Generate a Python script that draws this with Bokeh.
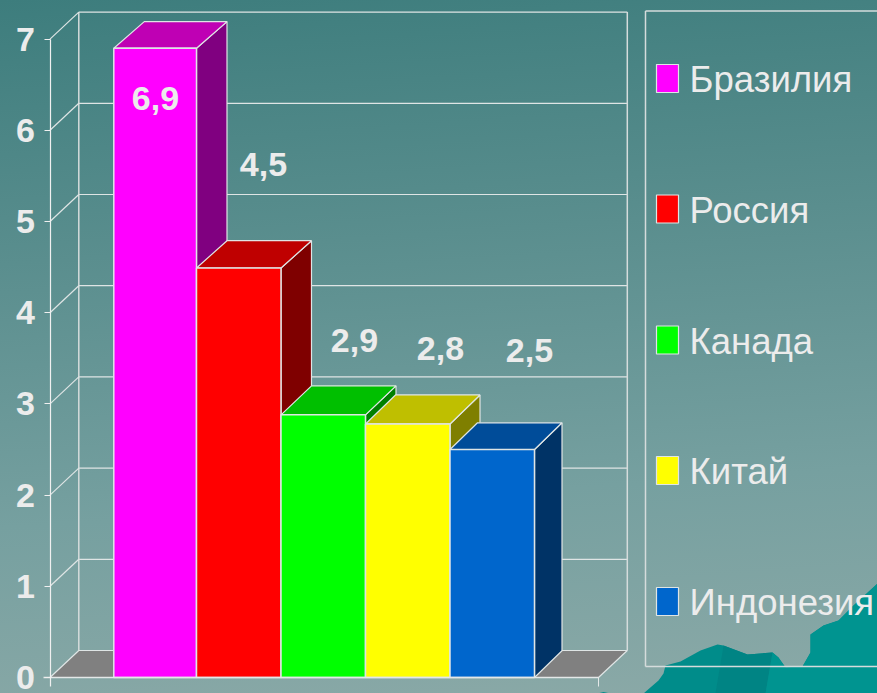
from bokeh.plotting import figure
from bokeh.embed import file_html
from bokeh.resources import INLINE
from bokeh.core.properties import value
from bokeh.models import FixedTicker, Range1d

categories = ["Бразилия", "Россия", "Канада", "Китай", "Индонезия"]
values = [6.9, 4.49, 2.88, 2.78, 2.5]
value_labels = ["6,9", "4,5", "2,9", "2,8", "2,5"]
y_ticks = [0, 1, 2, 3, 4, 5, 6, 7]
front_colors = ["#ff00ff", "#ff0000", "#00ff00", "#ffff00", "#0066cc"]
top_colors = ["#bf00b4", "#bf0000", "#00bf00", "#bfbf00", "#004c99"]
side_colors = ["#800080", "#7f0000", "#007f00", "#7f7f00", "#003366"]

# Layout (pixels of the 877x693 page)
W, H = 877, 693
Y0, PX_UNIT = 677.0, 91.2
X0, PX_BAR = 111.5, 84.5
def fx(px): return (px - X0) / PX_BAR
def fy(py): return (Y0 - py) / PX_UNIT
bar_dx = [30.5 / PX_BAR, 30.5 / PX_BAR, 30.5 / PX_BAR, 30 / PX_BAR, 27.5 / PX_BAR]
bar_dy = [26.6 / PX_UNIT, 27.3 / PX_UNIT, 29 / PX_UNIT, 29 / PX_UNIT, 26.7 / PX_UNIT]
DX, DY = 28.8 / PX_BAR, 27.0 / PX_UNIT
AX_L, AX_R = fx(49.5), fx(598)
LINE = "#dfe5e5"
EM = 34  # font size of value and tick labels
BASE_SHIFT = 0.35  # the page draws alphabetic text this many em lower

p = figure(width=W, height=H, output_backend="svg", toolbar_location=None,
           x_range=Range1d(fx(0), fx(W)), y_range=Range1d(fy(H), fy(0)),
           min_border=0, outline_line_color=None)
p.styles = {"position": "fixed", "left": "0", "top": "0",
            "background": "linear-gradient(176deg, #3d7d7d 0%, #5a8e8e 35%, #76a0a0 70%, #8ba9a7 100%)"}
p.background_fill_alpha = 0
p.border_fill_alpha = 0
p.grid.visible = False

# Decorative teal ridge of the slide background
ridge_x = [643, 658, 663, 665, 680, 700, 717, 723, 747, 772, 778, 785, 802, 810, 810, 823, 838, 853, 877, 877]
ridge_y = [693, 680, 673, 665, 661, 650, 644, 645, 654, 652, 657, 667, 666, 652, 634, 625, 620, 605, 583, 693]
p.patch([fx(a) for a in ridge_x], [fy(b) for b in ridge_y], fill_color="#008c8a", line_color=None)
p.patch([fx(a) for a in [723, 747, 772, 765, 715]], [fy(b) for b in [645, 654, 652, 693, 693]],
        fill_color="#008484", line_color=None)
p.patch([fx(a) for a in [772, 778, 785, 802, 810, 810, 823, 838, 853, 877, 877, 765]],
        [fy(b) for b in [652, 657, 667, 666, 652, 634, 625, 620, 605, 583, 693, 693]],
        fill_color="#009490", line_color=None)
p.patch([fx(a) for a in [597, 603, 610]], [fy(b) for b in [693, 691.5, 693]], fill_color="#008c8a", line_color=None)

# Back wall
back_l, back_r = AX_L + DX, AX_R + DX
p.segment(x0=[back_l] * 7, y0=[t + DY for t in y_ticks[1:]], x1=[back_r] * 7, y1=[t + DY for t in y_ticks[1:]],
          line_color=LINE, line_width=1.2)
p.segment(x0=[back_l, back_r], y0=[DY, DY], x1=[back_l, back_r], y1=[7 + DY, 7 + DY],
          line_color="#d5dcdc", line_width=1.5)
p.segment(x0=[AX_L] * 7, y0=y_ticks[1:], x1=[back_l] * 7, y1=[t + DY for t in y_ticks[1:]],
          line_color=LINE, line_width=1.2)

# Floor
p.patch([AX_L, back_l, back_r, AX_R], [0, DY, DY, 0], fill_color="#808080", line_color=LINE, line_width=1.2)

# 3D bars, left to right
bar_left = [fx(113.3), 1, 2, 3, 4]
for i, v in enumerate(values):
    dx, dy, l, r = bar_dx[i], bar_dy[i], bar_left[i], i + 1
    p.patch([r, r + dx, r + dx, r], [0, dy, v + dy, v],
            fill_color=side_colors[i], line_color=LINE, line_width=1.2)
    p.patch([l, l + dx, r + dx, r], [v, v + dy, v + dy, v],
            fill_color=top_colors[i], line_color=LINE, line_width=1.2)
    p.quad(left=[l], right=[r], bottom=[0], top=[v],
           fill_color=front_colors[i], line_color=LINE, line_width=1.5)

# Value labels: centre and baseline of each label, in page pixels
label_cx = [155, 263, 354, 440, 529]
label_base = [110, 176, 352, 360, 362]
p.text(x=[fx(c) for c in label_cx],
       y=[fy(b - BASE_SHIFT * EM) for b in label_base],
       text=value_labels, text_align="center", text_baseline="alphabetic",
       text_font=value("Liberation Sans"), text_font_style="bold",
       text_font_size=f"{EM}px", text_color="#ececec")

# Axes
ya = p.yaxis[0]
ya.fixed_location = AX_L
ya.ticker = FixedTicker(ticks=y_ticks)
ya.bounds = (fy(686), 7)
ya.axis_line_color = "#f0f0f0"
ya.axis_line_width = 1.2
ya.major_tick_line_color = "#f0f0f0"
ya.major_tick_out = 6
ya.major_tick_in = 0
ya.minor_tick_line_color = None
ya.major_label_standoff = 9
ya.major_label_text_font = "Liberation Sans"
ya.major_label_text_font_style = "bold"
ya.major_label_text_font_size = f"{EM}px"
ya.major_label_text_color = "#ececec"

xa = p.xaxis[0]
xa.fixed_location = 0
xa.ticker = FixedTicker(ticks=[AX_R])
xa.bounds = (fx(43), AX_R)
xa.axis_line_color = "#e4e8e8"
xa.axis_line_width = 1.5
xa.major_tick_line_color = "#e4e8e8"
xa.major_tick_out = 9
xa.major_tick_in = 0
xa.minor_tick_line_color = None
xa.major_label_overrides = {AX_R: ""}

# Legend
p.segment(x0=[fx(645), fx(645), fx(645)], y0=[fy(10.5), fy(10.5), fy(666)],
          x1=[fx(645), fx(877), fx(877)], y1=[fy(666), fy(10.5), fy(666)],
          line_color="#d5dcdc", line_width=1.5)
rows = [64, 194.5, 325.5, 456, 587]
p.quad(left=[fx(656)] * 5, right=[fx(678)] * 5,
       top=[fy(r) for r in rows], bottom=[fy(r + 28) for r in rows],
       fill_color=front_colors, line_color=LINE, line_width=1.2)
LEG_EM = 36.5
p.text(x=[fx(689)] * 5, y=[fy(r + 28 - BASE_SHIFT * LEG_EM) for r in rows], text=categories,
       text_align="left", text_baseline="alphabetic",
       text_font=value("Liberation Sans"), text_font_size=f"{LEG_EM}px", text_color="#ececec")

open("out.html", "w").write(file_html(p, INLINE))
